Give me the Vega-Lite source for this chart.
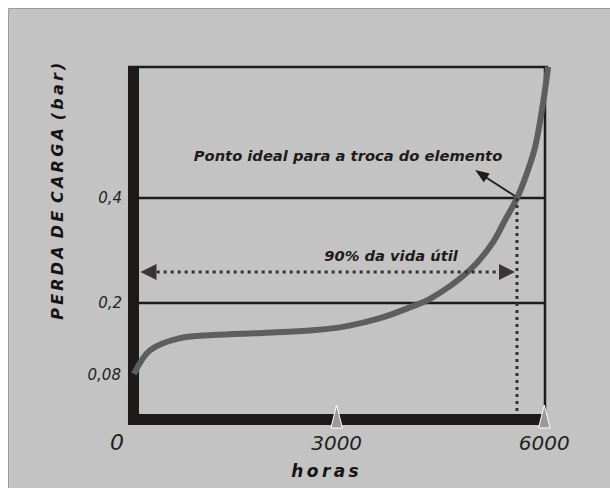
{
  "$schema": "https://vega.github.io/schema/vega-lite/v6.json",
  "width": 602,
  "height": 480,
  "autosize": {"type": "none"},
  "padding": {"left": 8, "top": 8, "right": 0, "bottom": 0},
  "background": "#ffffff",
  "config": {"view": {"fill": "#c3c3c3", "stroke": "#9c9c9c", "strokeWidth": 1}},
  "datasets": {
    "bars": [
      {"x": 65, "x2": 65, "y": 0.652, "y2": -0.0324},
      {"x": -14, "x2": 6010, "y": -0.0219, "y2": -0.0219}
    ],
    "frame": [
      {"x": 144, "x2": 6053, "y": 0.6495, "y2": 0.6495},
      {"x": 6010, "x2": 6010, "y": 0.6495, "y2": -0.012},
      {"x": 144, "x2": 6010, "y": 0.4, "y2": 0.4},
      {"x": 144, "x2": 6010, "y": 0.2, "y2": 0.2}
    ],
    "leader": [
      {"x": 5620, "x2": 5120, "y": 0.4, "y2": 0.4425}
    ],
    "curve": [
      {"x": 72, "y": 0.0648},
      {"x": 303, "y": 0.110},
      {"x": 737, "y": 0.133},
      {"x": 1214, "y": 0.139},
      {"x": 1936, "y": 0.143},
      {"x": 2659, "y": 0.148},
      {"x": 3150, "y": 0.156},
      {"x": 3627, "y": 0.171},
      {"x": 4104, "y": 0.194},
      {"x": 4349, "y": 0.208},
      {"x": 4927, "y": 0.263},
      {"x": 5260, "y": 0.316},
      {"x": 5433, "y": 0.358},
      {"x": 5607, "y": 0.400},
      {"x": 5751, "y": 0.448},
      {"x": 5867, "y": 0.497},
      {"x": 5982, "y": 0.581},
      {"x": 6055, "y": 0.650}
    ],
    "dotted": [
      {"x": 5605, "x2": 5605, "y": 0.4, "y2": -0.0114},
      {"x": 400, "x2": 5340, "y": 0.259, "y2": 0.259}
    ],
    "headLeft": [{"x": 282, "y": 0.259}],
    "headRight": [{"x": 5461, "y": 0.259}],
    "headLeader": [{"x": 5085, "y": 0.4457}],
    "ticks": [{"x": 3000, "y": -0.0162}, {"x": 6000, "y": -0.0162}],
    "ylabels": [
      {"x": -101, "y": 0.4, "t": "0,4"},
      {"x": -101, "y": 0.2, "t": "0,2"},
      {"x": -116, "y": 0.0629, "t": "0,08"}
    ],
    "xlabels": [
      {"x": 3000, "y": -0.0686, "t": "3000"},
      {"x": 6000, "y": -0.0686, "t": "6000"}
    ],
    "zero": [{"x": -173, "y": -0.0667, "t": "0"}],
    "notes": [
      {"x": 3164, "y": 0.478, "t": "Ponto ideal para a troca do elemento"},
      {"x": 3785, "y": 0.2876, "t": "90% da vida útil"}
    ],
    "xtitle": [{"x": 2832, "y": -0.1219, "t": "h\u2009o\u2009r\u2009a\u2009s"}],
    "ytitle": [{"x": -1026, "y": 0.413, "t": "P\u2009E\u2009R\u2009D\u2009A\u2002D\u2009E\u2002C\u2009A\u2009R\u2009G\u2009A\u2002(\u2009b\u2009a\u2009r\u2009)"}]
  },
  "encoding": {
    "x": {"field": "x", "type": "quantitative", "scale": {"domain": [-1748, 6949], "nice": false, "zero": false}, "axis": null},
    "y": {"field": "y", "type": "quantitative", "scale": {"domain": [-0.1524, 0.7619], "nice": false, "zero": false}, "axis": null}
  },
  "layer": [
    {
      "data": {"name": "frame"},
      "mark": {"type": "rule", "color": "#1f1b19", "strokeWidth": 2.5, "strokeCap": "butt"},
      "encoding": {"x2": {"field": "x2"}, "y2": {"field": "y2"}}
    },
    {
      "data": {"name": "bars"},
      "mark": {"type": "rule", "color": "#1e1a18", "strokeWidth": 11, "strokeCap": "butt"},
      "encoding": {"x2": {"field": "x2"}, "y2": {"field": "y2"}}
    },
    {
      "data": {"name": "leader"},
      "mark": {"type": "rule", "color": "#1f1b19", "strokeWidth": 1.8},
      "encoding": {"x2": {"field": "x2"}, "y2": {"field": "y2"}}
    },
    {
      "data": {"name": "curve"},
      "mark": {"type": "line", "color": "#5e5e5e", "strokeWidth": 6, "interpolate": "catmull-rom", "strokeCap": "butt"},
      "encoding": {}
    },
    {
      "data": {"name": "dotted"},
      "mark": {"type": "rule", "color": "#35312f", "strokeWidth": 3, "strokeDash": [3, 4], "strokeCap": "butt"},
      "encoding": {"x2": {"field": "x2"}, "y2": {"field": "y2"}}
    },
    {
      "data": {"name": "headLeft"},
      "mark": {"type": "point", "shape": "M-1,0L1,-1L1,1Z", "size": 256, "filled": true, "color": "#3a3533", "opacity": 1},
      "encoding": {}
    },
    {
      "data": {"name": "headRight"},
      "mark": {"type": "point", "shape": "M1,0L-1,-1L-1,1Z", "size": 256, "filled": true, "color": "#3a3533", "opacity": 1},
      "encoding": {}
    },
    {
      "data": {"name": "headLeader"},
      "mark": {"type": "point", "shape": "M0,-1L0.75,1L-0.75,1Z", "size": 196, "filled": true, "color": "#1f1b19", "opacity": 1, "angle": -56},
      "encoding": {}
    },
    {
      "data": {"name": "ticks"},
      "mark": {"type": "point", "shape": "M-0.5,1L0,-1L0.5,1Z", "size": 529, "filled": true, "fill": "#9a9a9a", "stroke": "#ffffff", "strokeWidth": 1, "opacity": 1},
      "encoding": {}
    },
    {
      "data": {"name": "ylabels"},
      "mark": {"type": "text", "align": "right", "baseline": "middle", "font": "DejaVu Sans", "fontStyle": "italic", "fontSize": 15, "color": "#231f1d"},
      "encoding": {"text": {"field": "t"}}
    },
    {
      "data": {"name": "xlabels"},
      "mark": {"type": "text", "align": "center", "baseline": "middle", "font": "DejaVu Sans", "fontStyle": "italic", "fontSize": 20, "color": "#231f1d"},
      "encoding": {"text": {"field": "t"}}
    },
    {
      "data": {"name": "zero"},
      "mark": {"type": "text", "align": "center", "baseline": "middle", "font": "DejaVu Sans", "fontStyle": "italic", "fontSize": 22, "color": "#231f1d"},
      "encoding": {"text": {"field": "t"}}
    },
    {
      "data": {"name": "notes"},
      "mark": {"type": "text", "align": "center", "baseline": "middle", "font": "DejaVu Sans", "fontStyle": "italic", "fontWeight": "bold", "fontSize": 14.7, "color": "#1f1b19"},
      "encoding": {"text": {"field": "t"}}
    },
    {
      "data": {"name": "xtitle"},
      "mark": {"type": "text", "align": "center", "baseline": "middle", "font": "DejaVu Sans", "fontStyle": "italic", "fontWeight": "bold", "fontSize": 17, "color": "#161312"},
      "encoding": {"text": {"field": "t"}}
    },
    {
      "data": {"name": "ytitle"},
      "mark": {"type": "text", "align": "center", "baseline": "middle", "angle": 270, "font": "DejaVu Sans", "fontStyle": "italic", "fontWeight": "bold", "fontSize": 16, "color": "#161312"},
      "encoding": {"text": {"field": "t"}}
    }
  ]
}
